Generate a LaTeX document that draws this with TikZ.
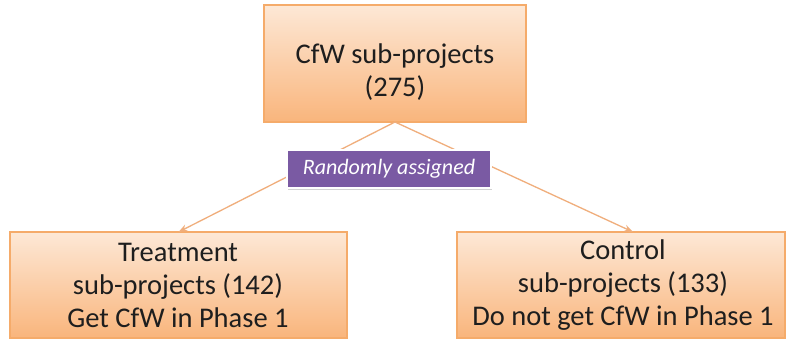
\documentclass[tikz,border=0pt]{standalone}
\usepackage{fontspec}
\setmainfont{Carlito}
\usetikzlibrary{arrows.meta,shadows}
\definecolor{boxtop}{HTML}{FDE8D6}
\definecolor{boxbot}{HTML}{F9B57C}
\definecolor{boxedge}{HTML}{F5AB6A}
\definecolor{lineor}{HTML}{F0AE7C}
\definecolor{purp}{HTML}{7A5AA3}
\definecolor{txtc}{HTML}{1E1E1E}
\begin{document}
\begin{tikzpicture}[x=1pt,y=-1pt,
  orbox/.style={draw=boxedge, line width=1.2pt, top color=boxtop, bottom color=boxbot, inner sep=0pt, outer sep=0pt},
  txt/.style={font=\fontsize{28.5}{33}\selectfont, align=center, text=txtc, inner sep=0pt},
  randbox/.style={draw=white, line width=2.5pt, fill=purp, text=white, font=\fontsize{22}{26}\selectfont\itshape,
    drop shadow={shadow xshift=1pt, shadow yshift=-2pt, opacity=0.35},
    minimum width=204pt, minimum height=38pt, inner sep=0pt},
  conn/.style={draw=lineor, line width=1.3pt, -{Stealth[length=9pt,width=7pt]}}]
\useasboundingbox (0,0) rectangle (790,339);
\fill[white] (0,0) rectangle (790,339);
\node[orbox, minimum width=262pt, minimum height=117pt] (top) at (395,63.5) {};
\node[txt] (toptxt) at (395,72) {CfW sub-projects\\(275)};
\node[orbox, minimum width=337pt, minimum height=106pt] (treat) at (178.5,285) {};
\node[txt] (treattxt) at (178,285) {Treatment\\sub-projects (142)\\Get CfW in Phase 1};
\node[orbox, minimum width=328pt, minimum height=106pt] (ctrl) at (621,285) {};
\node[txt] (ctrltxt) at (623,285) {Control\\sub-projects (133)\\Do not get CfW in Phase 1};
\draw[conn] (top.south) -- (treat.north);
\draw[conn] (top.south) -- ([xshift=12pt]ctrl.north);
\node[randbox] (rand) at (389,169) {Randomly assigned};
\end{tikzpicture}
\end{document}
